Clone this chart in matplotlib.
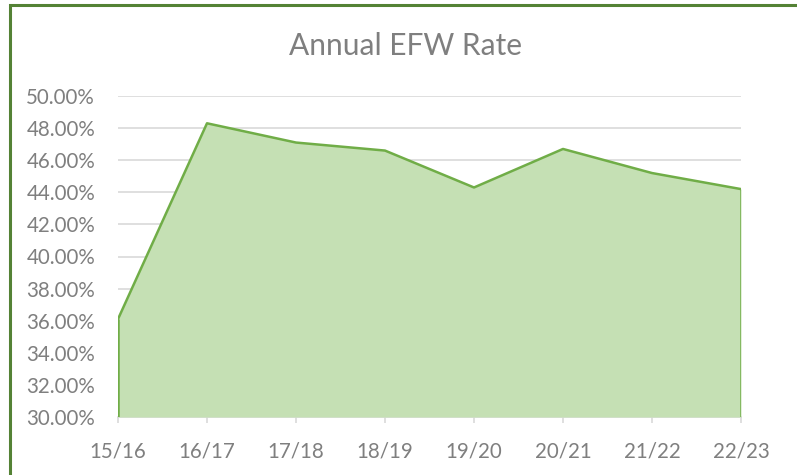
import matplotlib
matplotlib.use("Agg")
import matplotlib.pyplot as plt
from matplotlib.patches import Rectangle
from matplotlib.ticker import FuncFormatter

# data
years = ["15/16", "16/17", "17/18", "18/19", "19/20", "20/21", "21/22", "22/23"]
efw_rate = [36.1, 48.3, 47.1, 46.6, 44.3, 46.7, 45.2, 44.2]
y_ticks = [30, 32, 34, 36, 38, 40, 42, 44, 46, 48, 50]

plt.rcParams['font.family'] = ['Lato', 'DejaVu Sans']
text_color = '#7f7f7f'
grid_color = '#d9d9d9'

fig = plt.figure(figsize=(7.97, 4.75), dpi=100)
ax = fig.add_axes([118 / 797, 1 - 417 / 475, (741 - 118) / 797, (417 - 96) / 475])

x = list(range(len(years)))
ax.fill_between(x, efw_rate, 30, color='#c5e0b4', linewidth=0, zorder=2)
ax.plot(x, efw_rate, color='#70ad47', lw=1.8, zorder=3)
ax.vlines([x[0], x[-1]], 30, [efw_rate[0], efw_rate[-1]], color='#70ad47', lw=1.8, zorder=3)

ax.set_xlim(0, len(years) - 1)
ax.set_ylim(30, 50)
ax.set_xticks(x)
ax.set_xticklabels(years)
ax.set_yticks(y_ticks)
ax.yaxis.set_major_formatter(FuncFormatter(lambda v, p: f"{v:.2f}%"))

ax.grid(axis='y', color=grid_color, lw=1.2, zorder=1)
ax.set_axisbelow(True)
for side in ['top', 'right', 'left']:
    ax.spines[side].set_visible(False)
ax.spines['bottom'].set_color(grid_color)
ax.spines['bottom'].set_linewidth(1.2)
ax.spines['bottom'].set_zorder(1)

ax.tick_params(axis='y', length=0, pad=16.5, labelsize=14.8, labelcolor=text_color)
ax.tick_params(axis='x', length=4, width=1.2, color=grid_color, pad=13.5,
               labelsize=14.8, labelcolor=text_color)

fig.text(405 / 797, 1 - 46 / 475, "Annual EFW Rate", ha='center', va='center',
         fontsize=21.5, color=text_color)

# chart frame (only the left and top edges are visible in the crop)
fig.patches.append(Rectangle((10 / 797, -0.05), 1.1, 1 - 5 / 475 + 0.05,
                             transform=fig.transFigure, fill=False,
                             edgecolor='#548235', lw=2.2))

fig.savefig("out.png", dpi=100)
